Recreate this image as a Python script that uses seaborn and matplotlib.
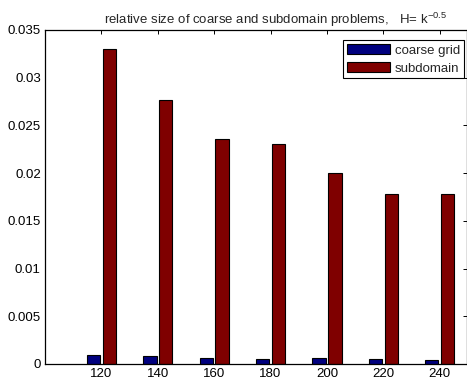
import matplotlib
matplotlib.use("Agg")
import matplotlib.pyplot as plt
import pandas as pd
import seaborn as sns

# Problem sizes (k) and relative sizes of the two problem types
k_values = [120, 140, 160, 180, 200, 220, 240]
coarse_grid = [0.00091, 0.00081, 0.00066, 0.00056, 0.00060, 0.00056, 0.00042]
subdomain = [0.0330, 0.0277, 0.0236, 0.0231, 0.0200, 0.0178, 0.0178]
series_names = ["coarse grid", "subdomain"]
y_ticks = [0, 0.005, 0.01, 0.015, 0.02, 0.025, 0.03, 0.035]

df = pd.DataFrame({
    "k": k_values * 2,
    "size": coarse_grid + subdomain,
    "series": [series_names[0]] * len(k_values) + [series_names[1]] * len(k_values),
})

FS = 9.5

sns.set_theme(style="white")
plt.rcParams["font.family"] = ["Liberation Sans", "DejaVu Sans"]
plt.rcParams["font.size"] = FS
plt.rcParams["mathtext.fontset"] = "custom"
plt.rcParams["mathtext.rm"] = "Liberation Sans"
plt.rcParams["mathtext.it"] = "Liberation Sans"

fig = plt.figure(figsize=(4.67, 3.8), dpi=100)
ax = fig.add_axes([45 / 467, 16 / 380, 421.5 / 467, 334 / 380])

sns.barplot(
    data=df, x="k", y="size", hue="series", hue_order=series_names,
    palette=["#00007f", "#7f0000"], saturation=1, native_scale=True,
    width=0.565, gap=0.16, edgecolor="black", linewidth=0.8,
    errorbar=None, ax=ax,
)

ax.set_xlim(100, 249.5)
ax.set_ylim(0, 0.035)
ax.set_xticks(k_values)
ax.set_xticklabels([str(v) for v in k_values])
ax.set_yticks(y_ticks)
ax.set_yticklabels([f"{v:g}" for v in y_ticks])
ax.set_xlabel("")
ax.set_ylabel("")

ax.tick_params(direction="in", length=3, width=0.7, top=True, right=True,
               labelsize=FS, colors="black", pad=3)
for s in ax.spines.values():
    s.set_visible(True)
    s.set_color("black")
    s.set_linewidth(0.9)

ax.set_title(r"relative size of coarse and subdomain problems,   H= k$^{\mathregular{-0.5}}$",
             fontsize=FS, x=(275 - 45) / 421.5, pad=4)

handles, labels = ax.get_legend_handles_labels()
leg = ax.legend(handles, labels, loc="upper right",
                bbox_to_anchor=(419 / 421.5, 324 / 334), borderaxespad=0,
                fontsize=FS, frameon=True, fancybox=False, shadow=False,
                handlelength=3.2, handleheight=0.8, handletextpad=0.4,
                labelspacing=0.4, borderpad=0.3)
leg.get_frame().set_edgecolor("black")
leg.get_frame().set_linewidth(0.8)
leg.get_frame().set_alpha(1)

fig.savefig("out.png", dpi=100)
